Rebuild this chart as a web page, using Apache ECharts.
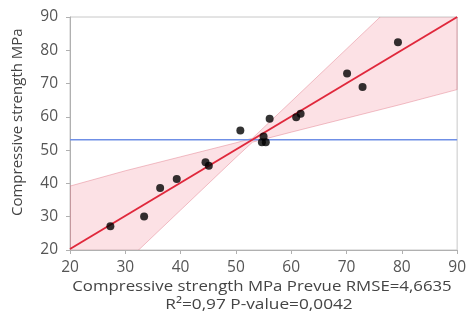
<!DOCTYPE html>
<html>
<head>
<meta charset="utf-8">
<script src="https://cdn.jsdelivr.net/npm/echarts@6/dist/echarts.min.js"></script>
<style>
  html, body { margin: 0; padding: 0; background: #fff; }
  #main { width: 469px; height: 320px; }
</style>
</head>
<body>
<div id="main"></div>
<script>
// predicted vs actual compressive strength (MPa)
const predicted = [27.3, 33.4, 36.3, 39.3, 44.5, 45.1, 50.8, 55.0, 54.7, 55.4, 56.1, 60.9, 61.7, 70.1, 72.9, 79.3];
const actual = [27.1, 30.1, 38.6, 41.3, 46.4, 45.3, 55.9, 54.1, 52.4, 52.4, 59.4, 59.9, 60.9, 73.0, 69.0, 82.4];

// fit line and mean line ends
const fitX = [20, 90];
const fitY = [20.3, 90];
const meanY = 53.1;

// confidence band
const bandX = [20, 30, 40, 50, 53, 60, 70, 80, 90];
const bandLower = [0.8, 16.2, 32, 47.8, 52.4, 55.4, 59.6, 63.8, 68.2];
const bandUpper = [39.2, 43.8, 48, 52.2, 53.6, 64.6, 80.4, 96.2, 112];

const labelFont = "Open Sans";
const axisStyle = {
  min: 20,
  max: 90,
  interval: 10,
  axisLine: { show: true, lineStyle: { color: "#b0b0b0" } },
  axisTick: { show: true, length: 4, lineStyle: { color: "#b0b0b0" } },
  splitLine: { show: false },
  axisLabel: { color: "#555", fontSize: 15.5, fontFamily: labelFont },
};

const chart = echarts.init(document.getElementById("main"));
chart.setOption({
  animation: false,
  grid: { left: 70, top: 17, right: 8, bottom: 70, show: true, borderColor: "#c8c8c8", borderWidth: 1 },
  xAxis: Object.assign({ type: "value" }, axisStyle, { axisLabel: Object.assign({}, axisStyle.axisLabel, { margin: 10 }) }),
  yAxis: Object.assign({ type: "value" }, axisStyle, { axisLabel: Object.assign({}, axisStyle.axisLabel, { margin: 12 }) }),
  series: [
    {
      type: "custom",
      clip: true,
      z: 1,
      data: bandX.map((x, i) => [x, bandLower[i], bandUpper[i]]),
      encode: { x: 0, y: [1, 2] },
      renderItem: function (params, api) {
        if (params.dataIndex !== 0) return;
        const pts = [];
        for (let i = 0; i < bandX.length; i++) pts.push(api.coord([bandX[i], bandUpper[i]]));
        for (let i = bandX.length - 1; i >= 0; i--) pts.push(api.coord([bandX[i], bandLower[i]]));
        return {
          type: "polygon",
          shape: { points: pts },
          style: { fill: "rgba(240, 95, 115, 0.19)", stroke: "rgba(225, 120, 135, 0.45)", lineWidth: 1 },
        };
      },
    },
    {
      type: "line",
      z: 2,
      data: [[20, meanY], [90, meanY]],
      symbol: "none",
      lineStyle: { color: "#6f8fe6", width: 1.5 },
    },
    {
      type: "line",
      z: 3,
      data: fitX.map((x, i) => [x, fitY[i]]),
      symbol: "none",
      lineStyle: { color: "#e0283c", width: 2 },
    },
    {
      type: "scatter",
      z: 4,
      data: predicted.map((x, i) => [x, actual[i]]),
      symbolSize: 8,
      itemStyle: { color: "#000" },
    },
  ],
  graphic: [
    {
      type: "text",
      x: 262,
      y: 287,
      scaleX: 1.12,
      style: { text: "Compressive strength MPa Prevue RMSE=4,6635", fill: "#444", fontSize: 15, fontFamily: labelFont, textAlign: "center", textVerticalAlign: "middle" },
    },
    {
      type: "text",
      x: 259,
      y: 305,
      scaleX: 1.15,
      style: { text: "R²=0,97 P-value=0,0042", fill: "#444", fontSize: 15, fontFamily: labelFont, textAlign: "center", textVerticalAlign: "middle" },
    },
    {
      type: "text",
      x: 10,
      y: 216,
      rotation: Math.PI / 2,
      style: { text: "Compressive strength MPa", fill: "#444", fontSize: 15, fontFamily: labelFont, textVerticalAlign: "top" },
    },
  ],
});
</script>
</body>
</html>
